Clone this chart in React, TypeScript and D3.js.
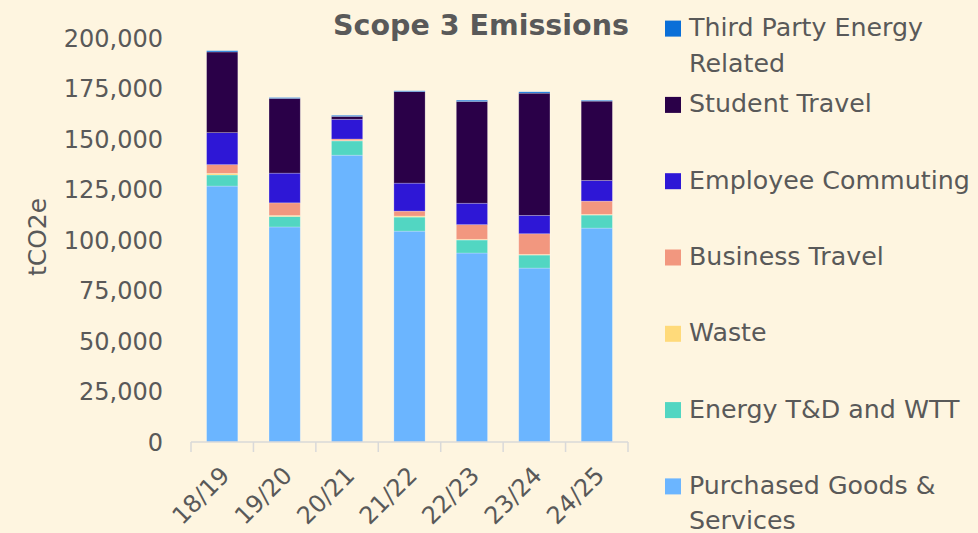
import React from "react";
import * as d3 from "d3";

const categories = ["18/19", "19/20", "20/21", "21/22", "22/23", "23/24", "24/25"];
const purchasedGoods = [126700, 106450, 142000, 104400, 93550, 86100, 105900];
const energyTD = [5500, 5200, 7050, 6950, 6450, 6450, 6450];
const waste = [800, 500, 200, 500, 350, 350, 350];
const businessTravel = [4300, 6250, 750, 2450, 7250, 10200, 6550];
const employeeCommuting = [15850, 14700, 9750, 13850, 10600, 9100, 10250];
const studentTravel = [39950, 37000, 1450, 45300, 50400, 60500, 39250];
const thirdParty = [600, 400, 500, 400, 600, 650, 400];
const yTicks = [0, 25000, 50000, 75000, 100000, 125000, 150000, 175000, 200000];

const seriesNames = [
  "Purchased Goods & Services",
  "Energy T&D and WTT",
  "Waste",
  "Business Travel",
  "Employee Commuting",
  "Student Travel",
  "Third Party Energy Related",
];
const seriesValues = [purchasedGoods, energyTD, waste, businessTravel, employeeCommuting, studentTravel, thirdParty];
const colors = ["#6BB5FF", "#52D6C2", "#FFDA7A", "#F2977F", "#2E17D6", "#2A0048", "#0A6FD8"];

const legendLines: string[][] = [
  ["Third Party Energy", "Related"],
  ["Student Travel"],
  ["Employee Commuting"],
  ["Business Travel"],
  ["Waste"],
  ["Energy T&D and WTT"],
  ["Purchased Goods &", "Services"],
];
const legendColorIdx = [6, 5, 4, 3, 2, 1, 0];

const W = 978;
const H = 533;
const TXT = "#595959";
const FONT = "'DejaVu Sans', sans-serif";

export default function App() {
  const x = d3.scaleBand<string>().domain(categories).range([191, 628]).paddingInner(0.5).paddingOuter(0.25);
  const y = d3.scaleLinear().domain([0, 200000]).range([442, 38]);

  const rows = categories.map((c, i) => {
    const r: any = { cat: c };
    seriesNames.forEach((s, j) => (r[s] = seriesValues[j][i]));
    return r;
  });
  const stacked = d3.stack<any>().keys(seriesNames)(rows);
  const fmt = d3.format(",");
  const step = x.step();

  return (
    <svg width={W} height={H} style={{ position: "fixed", left: 0, top: 0, background: "#FEF5E0" }}>
      <rect x={0} y={0} width={W} height={H} fill="#FEF5E0" />
      <text x={481} y={35} textAnchor="middle" fontFamily={FONT} fontWeight="bold" fontSize={28.5} fill={TXT}>
        Scope 3 Emissions
      </text>
      {stacked.map((layer, j) => (
        <g key={j} fill={colors[j]}>
          {layer.map((d, i) => (
            <rect
              key={i}
              x={x(categories[i])}
              width={x.bandwidth()}
              y={y(d[1])}
              height={Math.max(0, y(d[0]) - y(d[1]))}
              stroke="#ffffff"
              strokeOpacity={0.3}
              strokeWidth={0.75}
            />
          ))}
        </g>
      ))}
      {yTicks.map((t) => (
        <text key={t} x={163} y={y(t)} dy="0.36em" textAnchor="end" fontFamily={FONT} fontSize={24} fill={TXT}>
          {fmt(t)}
        </text>
      ))}
      <text
        transform={`translate(46, 237) rotate(-90)`}
        textAnchor="middle"
        fontFamily={FONT}
        fontSize={25}
        fill={TXT}
      >
        tCO2e
      </text>
      <line x1={191} x2={628} y1={y(0)} y2={y(0)} stroke="#D9D9D9" strokeWidth={1.5} />
      {d3.range(categories.length + 1).map((k) => {
        const xx = 191 + k * step;
        return <line key={k} x1={xx} x2={xx} y1={y(0)} y2={y(0) + 10} stroke="#D9D9D9" strokeWidth={1.5} />;
      })}
      {categories.map((c) => {
        const cx = (x(c) as number) + x.bandwidth() / 2;
        return (
          <text
            key={c}
            transform={`translate(${cx + 3}, 471) rotate(-45)`}
            textAnchor="end"
            dy="0.35em"
            fontFamily={FONT}
            fontSize={24}
            fill={TXT}
          >
            {c}
          </text>
        );
      })}
      {legendLines.map((lines, k) => {
        const cy = 28.6 + k * 76.3;
        return (
          <g key={k}>
            <rect x={665} y={cy - 8} width={16} height={16} fill={colors[legendColorIdx[k]]} />
            {lines.map((ln, m) => (
              <text key={m} x={689} y={cy + 7.5 + m * 35.5} fontFamily={FONT} fontSize={25.3} fill={TXT}>
                {ln}
              </text>
            ))}
          </g>
        );
      })}
    </svg>
  );
}
